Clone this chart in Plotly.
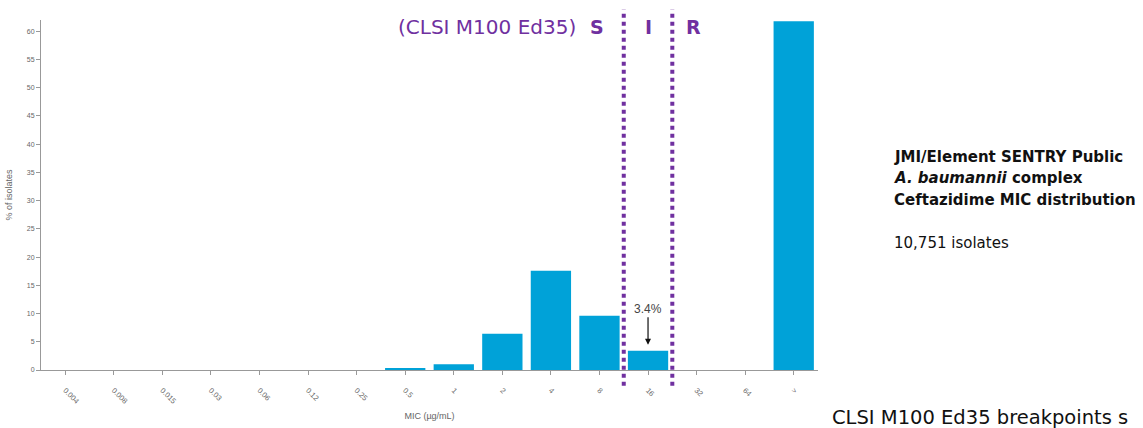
import plotly.graph_objects as go

# MIC dilution steps (µg/mL) and share of isolates at each step
mic_labels = ["0.004", "0.008", "0.015", "0.03", "0.06", "0.12", "0.25",
              "0.5", "1", "2", "4", "8", "16", "32", "64", ">"]
pct_isolates = [0, 0, 0, 0, 0, 0, 0, 0.2, 1.0, 6.4, 17.6, 9.6, 3.4, 0, 0, 61.8]
y_ticks = [0, 5, 10, 15, 20, 25, 30, 35, 40, 45, 50, 55, 60]

# Description lines shown beside the chart
info_lines = [
    "<b>JMI/Element SENTRY Public</b>",
    "<b><i>A. baumannii</i> complex</b>",
    "<b>Ceftazidime MIC distribution</b>",
    "10,751 isolates",
]

# Breakpoints (CLSI M100 Ed35): S <= 8, I = 16, R >= 32
s_upper_idx = mic_labels.index("8")
i_idx = mic_labels.index("16")
r_lower_idx = mic_labels.index("32")

bar_color = "#00A2D8"
purple = "#7030A0"
label_font = "DejaVu Sans, Open Sans, Arial, sans-serif"

x_idx = list(range(len(mic_labels)))

fig = go.Figure()
fig.add_trace(go.Bar(
    x=x_idx, y=pct_isolates,
    marker=dict(color=bar_color, line=dict(width=0)),
    showlegend=False,
))

fig.update_layout(
    width=1143, height=428,
    margin=dict(l=41, r=325, t=20, b=58),
    paper_bgcolor="white", plot_bgcolor="white",
    bargap=0.17,
    font=dict(family=label_font, color="#555"),
)

fig.update_xaxes(
    automargin=False,
    range=[-0.5, len(mic_labels) - 0.5],
    tickmode="array", tickvals=x_idx, ticktext=mic_labels,
    tickangle=45, tickfont=dict(size=7.5, color="#666", family="Arial"),
    ticks="outside", ticklen=4, tickcolor="#999", ticklabelstandoff=8,
    showline=True, linecolor="#999", linewidth=1,
    showgrid=False, zeroline=False,
    title=dict(text="MIC (µg/mL)", font=dict(size=9, color="#666", family="Arial"), standoff=8),
)
fig.update_yaxes(
    automargin=False,
    range=[0, 62],
    tickmode="array", tickvals=y_ticks,
    tickfont=dict(size=7, color="#666", family="Arial"),
    ticks="outside", ticklen=4, tickcolor="#999",
    showline=True, linecolor="#999", linewidth=1,
    showgrid=False, zeroline=False,
    title=dict(text="% of isolates", font=dict(size=9, color="#666", family="Arial"), standoff=12),
)

# Dotted breakpoint separators between S|I and I|R
for xb in [(s_upper_idx + i_idx) / 2, (i_idx + r_lower_idx) / 2]:
    fig.add_shape(type="line", xref="x", yref="paper",
                  x0=xb, x1=xb, y0=-0.045, y1=1.03,
                  line=dict(color=purple, width=4, dash="dot"))

# Interpretive category labels above the plot
top_y = 0.98
fig.add_annotation(xref="x", yref="paper", x=s_upper_idx - 0.44, y=top_y,
                   text="(CLSI M100 Ed35)", showarrow=False, xanchor="right", yanchor="middle",
                   font=dict(size=20, color=purple, family=label_font))
for pos, lbl in [(s_upper_idx - 0.05, "S"), (i_idx, "I"), (r_lower_idx - 0.07, "R")]:
    fig.add_annotation(xref="x", yref="paper", x=pos, y=top_y,
                       text=f"<b>{lbl}</b>", showarrow=False, xanchor="center", yanchor="middle",
                       font=dict(size=19, color=purple, family=label_font))

# Value callout for the intermediate bar
fig.add_annotation(x=i_idx, y=pct_isolates[i_idx], xref="x", yref="y",
                   text=f"{pct_isolates[i_idx]}%", showarrow=True,
                   arrowhead=2, arrowsize=1, arrowwidth=1.2, arrowcolor="#111",
                   ax=0, ay=-38, yshift=4, standoff=2,
                   font=dict(size=12, color="#444", family="Arial"))

# Description block on the right, one annotation per line
for line, yp in zip(info_lines, [0.608, 0.548, 0.486, 0.363]):
    fig.add_annotation(xref="paper", yref="paper", x=1.0, xshift=74, y=yp,
                       yanchor="middle", xanchor="left", align="left", showarrow=False,
                       text=line, font=dict(size=15, color="#111", family=label_font))

# Footer note
fig.add_annotation(xref="paper", yref="paper", x=1.0, xshift=12, y=0, yshift=-47,
                   xanchor="left", yanchor="middle", showarrow=False,
                   text="CLSI M100 Ed35 breakpoints s",
                   font=dict(size=19.5, color="#111", family=label_font))

fig.write_html("out.html")
